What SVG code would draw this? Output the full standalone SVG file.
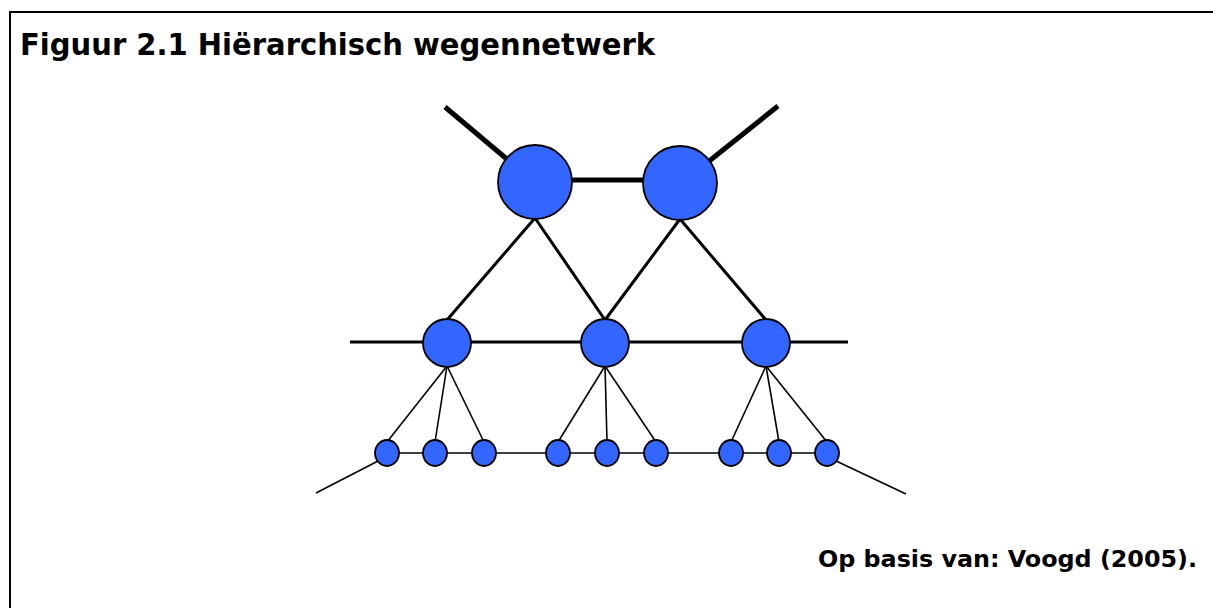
<svg xmlns="http://www.w3.org/2000/svg" width="1213" height="608" viewBox="0 0 1213 608">
  <style>
    .frame { fill: none; stroke: #000; stroke-width: 2; }
    .title { font-family: "DejaVu Sans Condensed", "DejaVu Sans", "Liberation Sans", sans-serif; font-weight: bold; fill: #000; }
    .node { fill: #3366ff; stroke: #000; stroke-width: 1.8; }
    .road1 { stroke: #000; stroke-width: 5; fill: none; }
    .road2 { stroke: #000; stroke-width: 3; fill: none; }
    .road3 { stroke: #000; stroke-width: 1.6; fill: none; }
  </style>

  <rect class="frame" x="10" y="12" width="1220" height="620"/>

  <text class="title" x="20" y="55" font-size="30" textLength="635" lengthAdjust="spacingAndGlyphs">Figuur 2.1 Hiërarchisch wegennetwerk</text>
  <text class="title" x="818" y="567" font-size="22.5" textLength="379" lengthAdjust="spacingAndGlyphs">Op basis van: Voogd (2005).</text>

  <g id="connectors">
    <!-- main roads -->
    <line class="road1" x1="445" y1="107" x2="508" y2="160"/>
    <line class="road1" x1="778" y1="106" x2="708" y2="162"/>
    <line class="road1" x1="570" y1="180" x2="645" y2="180"/>
    <!-- main to secondary -->
    <line class="road2" x1="535" y1="218" x2="447" y2="320"/>
    <line class="road2" x1="535" y1="218" x2="605" y2="320"/>
    <line class="road2" x1="680" y1="219" x2="605" y2="320"/>
    <line class="road2" x1="680" y1="219" x2="766" y2="320"/>
    <!-- secondary road -->
    <line class="road2" x1="350" y1="342" x2="848" y2="342"/>
    <!-- secondary to local -->
    <line class="road3" x1="447" y1="366" x2="387" y2="442"/>
    <line class="road3" x1="447" y1="366" x2="435" y2="442"/>
    <line class="road3" x1="447" y1="366" x2="484" y2="442"/>
    <line class="road3" x1="605" y1="366" x2="558" y2="442"/>
    <line class="road3" x1="605" y1="366" x2="607" y2="442"/>
    <line class="road3" x1="605" y1="366" x2="656" y2="442"/>
    <line class="road3" x1="766" y1="366" x2="731" y2="442"/>
    <line class="road3" x1="766" y1="366" x2="779" y2="442"/>
    <line class="road3" x1="766" y1="366" x2="827" y2="442"/>
    <!-- local road -->
    <line class="road3" x1="387" y1="453" x2="827" y2="453"/>
    <line class="road3" x1="380" y1="460" x2="316" y2="493"/>
    <line class="road3" x1="834" y1="460" x2="906" y2="494"/>
  </g>

  <g id="main-1"><circle class="node" cx="535" cy="182" r="37"/></g>
  <g id="main-2"><circle class="node" cx="680" cy="183" r="37"/></g>

  <g id="sec-1"><circle class="node" cx="447" cy="343" r="24"/></g>
  <g id="sec-2"><circle class="node" cx="605" cy="343" r="24"/></g>
  <g id="sec-3"><circle class="node" cx="766" cy="343" r="24"/></g>

  <g id="loc-1"><ellipse class="node" cx="387" cy="453" rx="12" ry="13"/></g>
  <g id="loc-2"><ellipse class="node" cx="435" cy="453" rx="12" ry="13"/></g>
  <g id="loc-3"><ellipse class="node" cx="484" cy="453" rx="12" ry="13"/></g>
  <g id="loc-4"><ellipse class="node" cx="558" cy="453" rx="12" ry="13"/></g>
  <g id="loc-5"><ellipse class="node" cx="607" cy="453" rx="12" ry="13"/></g>
  <g id="loc-6"><ellipse class="node" cx="656" cy="453" rx="12" ry="13"/></g>
  <g id="loc-7"><ellipse class="node" cx="731" cy="453" rx="12" ry="13"/></g>
  <g id="loc-8"><ellipse class="node" cx="779" cy="453" rx="12" ry="13"/></g>
  <g id="loc-9"><ellipse class="node" cx="827" cy="453" rx="12" ry="13"/></g>
</svg>
